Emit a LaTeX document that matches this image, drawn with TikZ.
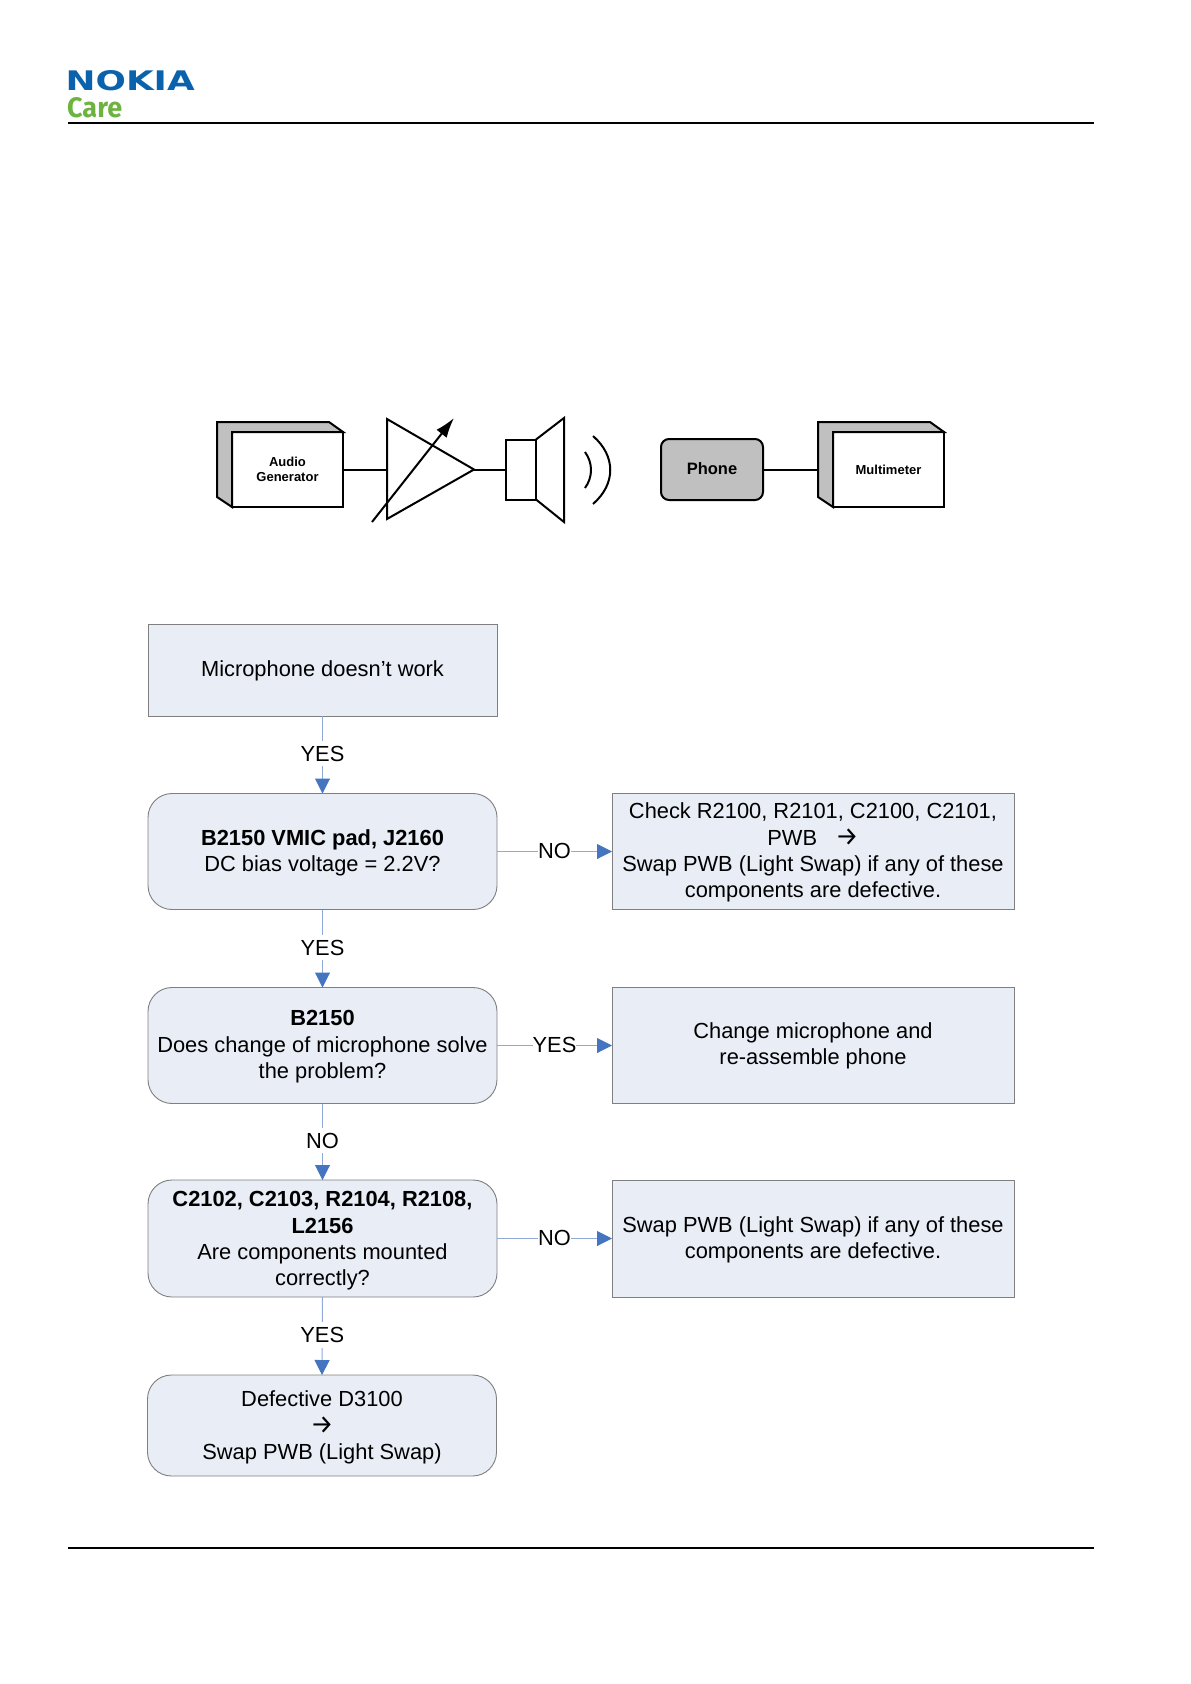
\documentclass[tikz,border=0pt]{standalone}
\usepackage{fontspec}
\usepackage{graphicx}
\setmainfont{Liberation Sans}
\newfontfamily\carefont{Fira Sans}
\newfontfamily\nokiafont{DejaVu Sans}
\usetikzlibrary{arrows.meta}

\definecolor{nokiablue}{HTML}{0B62AC}
\definecolor{caregreen}{HTML}{6DB33F}
\definecolor{boxfill}{HTML}{E8EDF6}
\definecolor{boxline}{HTML}{7F7F7F}
\definecolor{flowline}{HTML}{8FAAD8}
\definecolor{flowtip}{HTML}{4575C0}
\definecolor{blockgray}{HTML}{C0C0C0}

\newcommand{\openarrow}{{\fontsize{26}{26.3}\selectfont\carefont →}}
\newcommand{\lift}[1]{\rule{0pt}{#1pt}}

\tikzset{
    flowtext/.style = {font = \fontsize{21.85}{26.3}\selectfont, align = center},
    squarebox/.style = {flowtext, draw = boxline, fill = boxfill, line width = 0.9pt, inner sep = 0pt, outer sep = 0pt},
    roundbox/.style = {squarebox, rounded corners = 24pt},
    flowarrow/.style = {draw = flowline, line width = 1pt, -{Triangle[length = 15pt, width = 15pt, color = flowtip]}},
    flowlabel/.style = {flowtext, fill = white, inner xsep = 0pt, inner ysep = 5pt, yshift = 1pt},
    blockline/.style = {line width = 2pt, line join = miter},
    blockbox/.style = {draw, blockline, inner sep = 0pt, outer sep = 0pt, anchor = north west},
    blocktext/.style = {font = \fontsize{13}{15.5}\selectfont\bfseries, align = center}
}

\begin{document}
\begin{tikzpicture}[x = 1pt, y = -1pt]

    \useasboundingbox (0, 0) rectangle (1191, 1684);

    \def\leftx  {322.5}
    \def\rightx {813}
    \def\leftw  {349}
    \def\rightw {402}

    % logo
    \node [inner sep = 0pt, anchor = north west, text = nokiablue] (nokia) at (65.5, 70.5)
        {\resizebox{129pt}{20pt}{\nokiafont\bfseries NOKIA}};
    \node [inner sep = 0pt, anchor = north west, text = caregreen] (care) at (67, 97.5)
        {\resizebox{55pt}{20pt}{\carefont\bfseries Care}};

    % header and footer
    \draw [line width = 2pt] (68, 122.7) -- (1094, 122.7);
    \draw [line width = 2pt] (68, 1547.7) -- (1094, 1547.7);

    % audio generator
    \path [draw, fill = blockgray, blockline] (217, 422) -- (329, 422) -- (343, 432) -- (232, 432)
        -- (232, 507) -- (217, 497) -- cycle;
    \node [blockbox, blocktext, minimum width = 111pt, minimum height = 75pt] (audio) at (232, 432) {Audio\\ Generator};

    % amplifier
    \coordinate (ampin) at (387, 469.5);
    \coordinate (amptip) at (474, 469.5);
    \draw [blockline] (387, 419) -- (amptip) -- (387, 519) -- cycle;
    \coordinate (knobfrom) at (372, 522);
    \coordinate (knobto) at (454, 418);
    \draw [blockline, -{Latex[length = 20pt, width = 13pt]}] (knobfrom) -- (knobto);

    % speaker
    \node [blockbox, minimum width = 30pt, minimum height = 60pt] (speaker) at (506, 439.5) {};
    \draw [blockline] (speaker.north east) -- (564, 418) -- (564, 522) -- (speaker.south east);

    % sound
    \draw [blockline] (585, 452) .. controls (593, 463) and (593, 477) .. (585, 488);
    \draw [blockline] (593, 436) .. controls (616, 456) and (616, 484) .. (593, 504);

    % phone and multimeter
    \node [blockbox, fill = blockgray, rounded corners = 8pt, minimum width = 102pt, minimum height = 61pt, font = \fontsize{16.5}{19}\selectfont\bfseries] (phone) at (661, 439) {\raisebox{1pt}{Phone}};
    \path [draw, fill = blockgray, blockline] (818, 422) -- (930, 422) -- (944, 432) -- (833, 432)
        -- (833, 507) -- (818, 497) -- cycle;
    \node [blockbox, blocktext, minimum width = 111pt, minimum height = 75pt] (meter) at (833, 432) {Multimeter};
    \coordinate (meterback) at (818, 469.5);

    % block lines
    \draw [blockline] (audio.east) -- (ampin);
    \draw [blockline] (amptip) -- (speaker.west);
    \draw [blockline] (phone.east) -- (meterback);

    % flow boxes
    \node [squarebox, minimum width = \leftw pt, minimum height = 92pt] (start) at (\leftx, 670) {\lift{17}Microphone doesn’t work};
    \node [roundbox, minimum width = \leftw pt, minimum height = 116pt] (vmic) at (\leftx, 851.5)
        {\lift{18}\textbf{B2150 VMIC pad, J2160}\\ DC bias voltage = 2.2V?};
    \node [squarebox, minimum width = \rightw pt, minimum height = 116pt] (check) at (\rightx, 851.5)
        {\lift{18}Check R2100, R2101, C2100, C2101,\\ PWB\ \ \ \openarrow\\ Swap PWB (Light Swap) if any of these\\ components are defective.};
    \node [roundbox, minimum width = \leftw pt, minimum height = 116pt] (mic) at (\leftx, 1045.5)
        {\lift{18}\textbf{B2150}\\ Does change of microphone solve\\ the problem?};
    \node [squarebox, minimum width = \rightw pt, minimum height = 116pt] (change) at (\rightx, 1045.5)
        {Change microphone and\\ re-assemble phone};
    \node [roundbox, minimum width = \leftw pt, minimum height = 117pt] (mount) at (\leftx, 1238.5)
        {\lift{20}\textbf{C2102, C2103, R2104, R2108,}\\ \textbf{L2156}\\ Are components mounted\\ correctly?};
    \node [squarebox, minimum width = \rightw pt, minimum height = 117pt] (swap) at (\rightx, 1238.5)
        {\lift{18}Swap PWB (Light Swap) if any of these\\ components are defective.};
    \node [roundbox, minimum width = \leftw pt, minimum height = 101pt] (defect) at (\leftx - 0.5, 1425.5)
        {\lift{20}Defective D3100\\ \openarrow\\ Swap PWB (Light Swap)};

    % flow arrows
    \foreach \from/\to/\word in {start/vmic/YES, vmic/mic/YES, mic/mount/NO, mount/defect/YES}
        \draw [flowarrow] (\from.south) -- node [flowlabel] {\word} (\to.north);
    \foreach \from/\to/\word in {vmic/check/NO, mic/change/YES, mount/swap/NO}
        \draw [flowarrow] (\from.east) -- node [flowlabel] {\word} (\to.west);

\end{tikzpicture}
\end{document}
